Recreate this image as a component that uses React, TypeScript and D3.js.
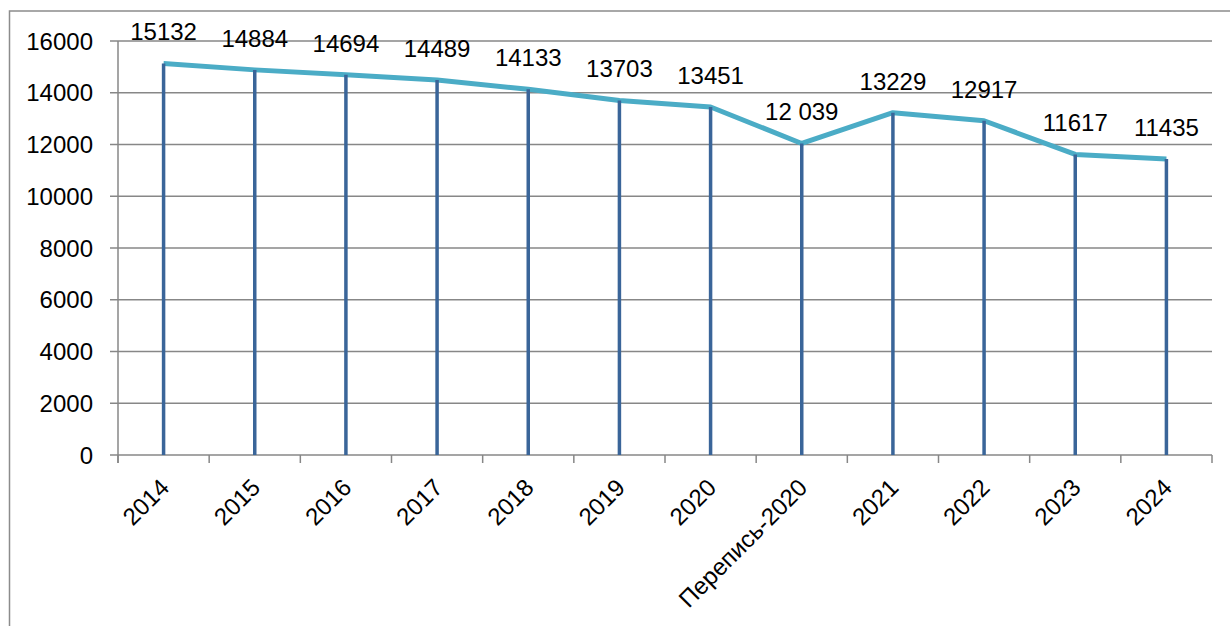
import React from "react";
import * as d3 from "d3";

const categories = ["2014", "2015", "2016", "2017", "2018", "2019", "2020", "Перепись-2020", "2021", "2022", "2023", "2024"];
const values = [15132, 14884, 14694, 14489, 14133, 13703, 13451, 12039, 13229, 12917, 11617, 11435];
const valueLabels = ["15132", "14884", "14694", "14489", "14133", "13703", "13451", "12 039", "13229", "12917", "11617", "11435"];
const yTicks = [0, 2000, 4000, 6000, 8000, 10000, 12000, 14000, 16000];

const W = 1230, H = 626;
const left = 118, right = 1212, top = 41, bottom = 455;
const FONT = "'Liberation Sans', Arial, sans-serif";

export default function App() {
  const x = d3.scaleBand<string>().domain(categories).range([left, right]).padding(0);
  const y = d3.scaleLinear().domain([0, 16000]).range([bottom, top]);
  const cx = (c: string) => (x(c) as number) + x.bandwidth() / 2;
  const line = d3.line<number>().x((_, i) => cx(categories[i])).y((v) => y(v));
  const boundaries = categories.map((c) => x(c) as number).concat([right]);

  return (
    <svg width={W} height={H} style={{ position: "absolute", left: 0, top: 0, background: "#fff" }} fontFamily={FONT}>
      <rect x={9.5} y={11} width={1300} height={700} fill="#fff" stroke="#8c8c8c" strokeWidth={1.5} />
      {yTicks.map((t) => (
        <g key={t}>
          <line x1={left - 8} x2={right} y1={y(t)} y2={y(t)} stroke="#878787" strokeWidth={1.5} />
          <text x={left - 25} y={y(t)} dy="0.36em" textAnchor="end" fontSize={24} fill="#000">{t}</text>
        </g>
      ))}
      <line x1={left} x2={left} y1={top} y2={bottom + 8} stroke="#878787" strokeWidth={1.5} />
      {boundaries.map((b, i) => (
        <line key={i} x1={b} x2={b} y1={bottom} y2={bottom + 8} stroke="#878787" strokeWidth={1.5} />
      ))}
      <path d={line(values) || ""} fill="none" stroke="#4BACC6" strokeWidth={5} strokeLinejoin="round" />
      {values.map((v, i) => (
        <line key={i} x1={cx(categories[i])} x2={cx(categories[i])} y1={y(v)} y2={bottom} stroke="#3A6599" strokeWidth={3.5} />
      ))}
      {values.map((v, i) => (
        <text key={i} x={cx(categories[i])} y={y(v) - 23} textAnchor="middle" fontSize={24} fill="#000">{valueLabels[i]}</text>
      ))}
      {categories.map((c) => (
        <text key={c} transform={`translate(${cx(c) + 7},${bottom + 34}) rotate(-45)`} textAnchor="end" fontSize={24} fill="#000">{c}</text>
      ))}
    </svg>
  );
}
